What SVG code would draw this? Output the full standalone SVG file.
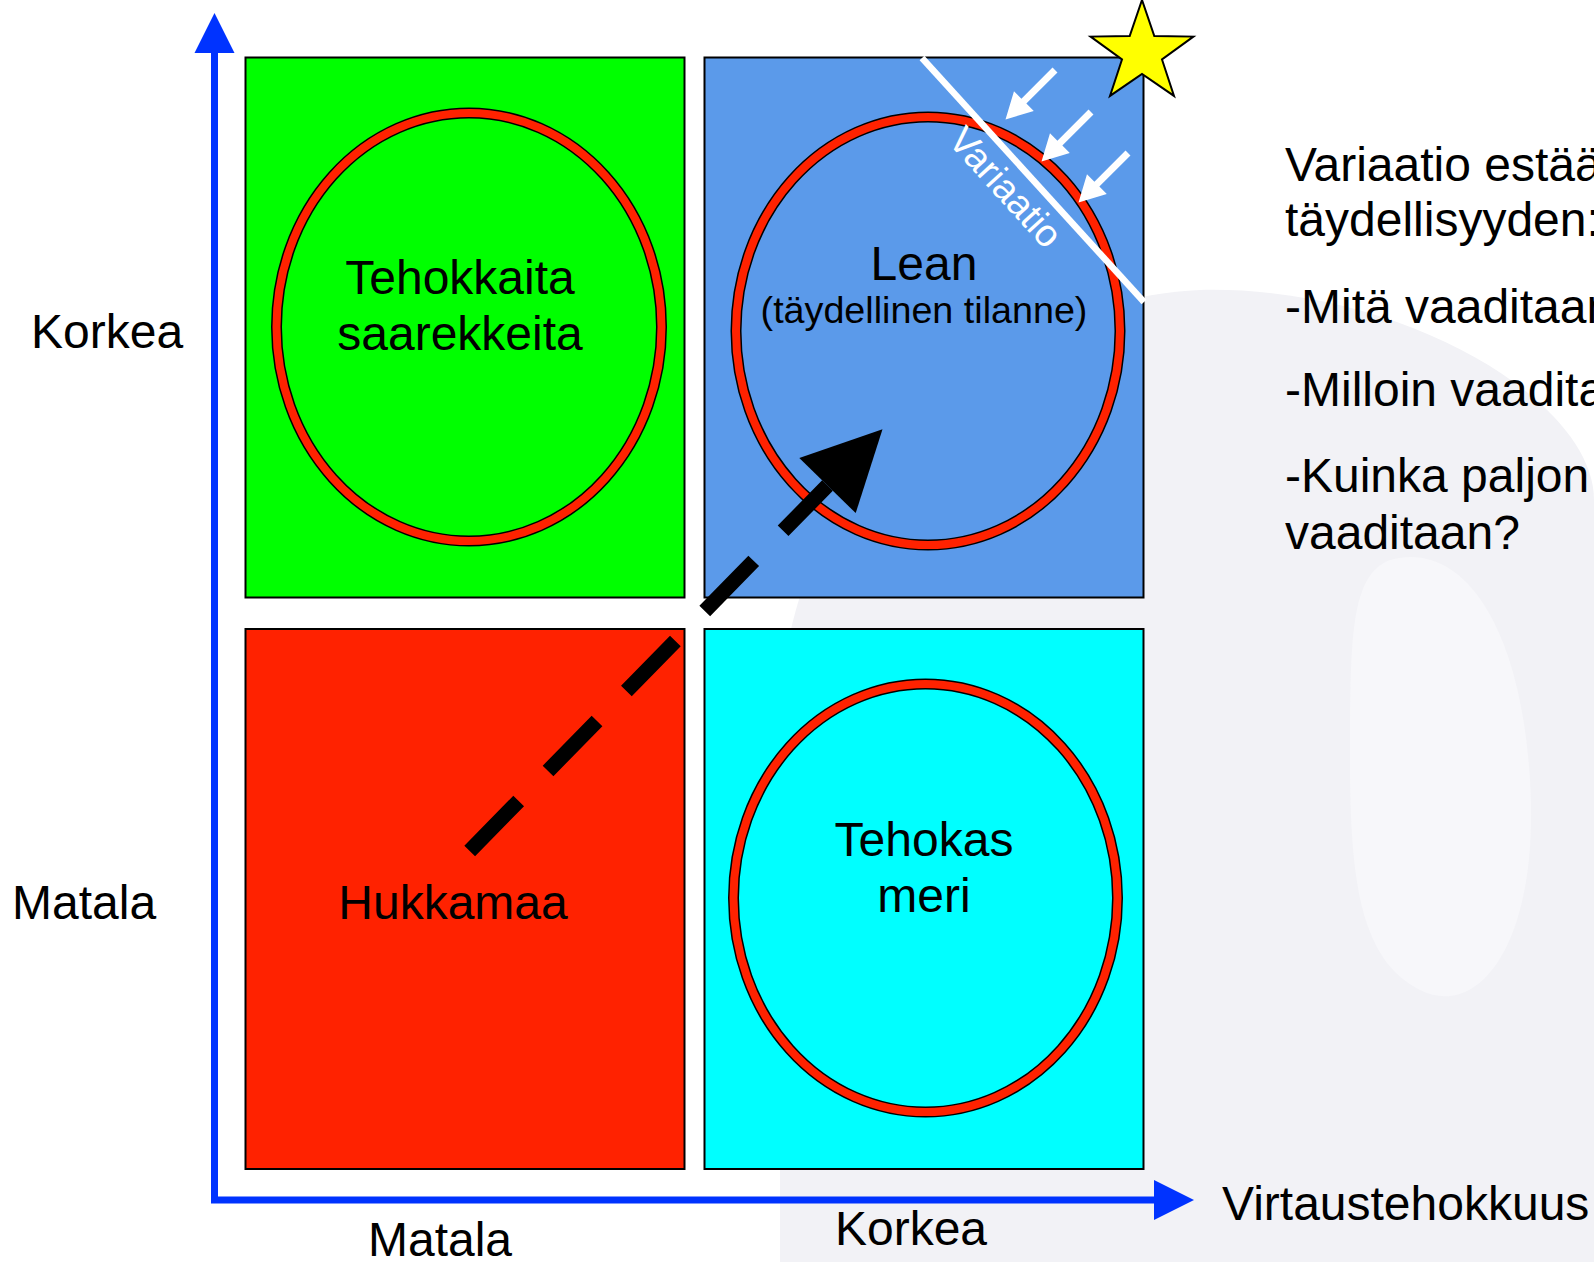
<svg xmlns="http://www.w3.org/2000/svg" width="1594" height="1262" viewBox="0 0 1594 1262">
<style>
text{font-family:"Liberation Sans",Arial,sans-serif;fill:#000}
.t47{font-size:48px}
.t36{font-size:37.7px}
.mid{text-anchor:middle}
.quad{stroke:#000;stroke-width:2}
.ringO{fill:none;stroke:#000;stroke-width:11}
.ringI{fill:none;stroke:#ff2200;stroke-width:8}
.axis{fill:none;stroke:#0033ff;stroke-width:7}
.ahead{fill:#0033ff}
</style>
<defs>
<path id="warrow" d="M0,-3.5 L44,-3.5 L44,-14 L70,0 L44,14 L44,3.5 L0,3.5 Z" fill="#fff"/>
</defs>
<rect width="1594" height="1262" fill="#fff"/>
<g id="watermark">
<path d="M780,1262 L780,700 C800,450 1000,300 1200,290 C1400,285 1594,400 1594,500 L1594,1262 Z" fill="#f2f2f6"/>
<path d="M1390,560 C1460,540 1520,620 1530,780 C1540,940 1480,1020 1420,990 C1360,960 1350,880 1350,760 C1350,640 1350,575 1390,560 Z" fill="#f7f7fa"/>
</g>
<g id="axes">
<path class="axis" d="M214.5,53 L214.5,1200 L1154,1200"/>
<polygon class="ahead" points="214.5,13 234.5,53 194.5,53"/>
<polygon class="ahead" points="1154,1180 1194,1200 1154,1220"/>
</g>
<g id="q-green">
<rect class="quad" x="245.5" y="57.5" width="439" height="540" fill="#00ff00"/>
<ellipse class="ringO" cx="469" cy="327" rx="192.5" ry="214"/>
<ellipse class="ringI" cx="469" cy="327" rx="192.5" ry="214"/>
<text class="t47 mid" x="460" y="294">Tehokkaita</text>
<text class="t47 mid" x="460" y="350">saarekkeita</text>
</g>
<g id="q-blue">
<rect class="quad" x="704.5" y="57.5" width="439" height="540" fill="#5b9aea"/>
<ellipse class="ringO" cx="928" cy="331" rx="192" ry="214"/>
<ellipse class="ringI" cx="928" cy="331" rx="192" ry="214"/>
<text class="t47 mid" x="924" y="280">Lean</text>
<text class="t36 mid" x="924" y="323">(täydellinen tilanne)</text>
</g>
<g id="q-red">
<rect class="quad" x="245.5" y="629" width="439" height="540" fill="#ff2200"/>
<text class="t47 mid" x="453" y="919">Hukkamaa</text>
</g>
<g id="q-cyan">
<rect class="quad" x="704.5" y="629" width="439" height="540" fill="#00ffff"/>
<ellipse class="ringO" cx="925.5" cy="898" rx="192" ry="214"/>
<ellipse class="ringI" cx="925.5" cy="898" rx="192" ry="214"/>
<text class="t47 mid" x="924" y="856">Tehokas</text>
<text class="t47 mid" x="924" y="912">meri</text>
</g>
<g id="variation">
<line x1="922" y1="58" x2="1144" y2="302" stroke="#fff" stroke-width="6.5"/>
<use href="#warrow" transform="translate(1055,70) rotate(135)"/>
<use href="#warrow" transform="translate(1091,112) rotate(135)"/>
<use href="#warrow" transform="translate(1128,153) rotate(135)"/>
<text x="996" y="196" transform="rotate(47.7 996 196)" style="fill:#fff;font-size:38px;text-anchor:middle">Variaatio</text>
</g>
<g id="star">
<polygon points="1142,0 1154.3,36 1193.4,36.6 1162,59.5 1174,95.9 1142,74 1110,95.9 1122,59.5 1090.6,36.6 1129.7,36" fill="#ffff00" stroke="#000" stroke-width="2" stroke-linejoin="miter"/>
</g>
<g id="connectors">
<path d="M469.7,851 L827.5,485.5" fill="none" stroke="#000" stroke-width="15" stroke-dasharray="70 42"/>
<polygon points="882.5,429.3 855.7,513.1 799.3,457.9" fill="#000"/>
</g>
<g id="labels">
<text class="t47" x="31" y="348">Korkea</text>
<text class="t47" x="12" y="919">Matala</text>
<text class="t47 mid" x="440" y="1256">Matala</text>
<text class="t47 mid" x="911" y="1245">Korkea</text>
<text class="t47" x="1222" y="1220">Virtaustehokkuus</text>
</g>
<g id="notes">
<text class="t47" x="1285" y="181">Variaatio estää</text>
<text class="t47" x="1285" y="236">täydellisyyden:</text>
<text class="t47" x="1285" y="323">-Mitä vaaditaan</text>
<text class="t47" x="1285" y="406">-Milloin vaaditaan</text>
<text class="t47" x="1285" y="492">-Kuinka paljon</text>
<text class="t47" x="1285" y="549">vaaditaan?</text>
</g>
</svg>
